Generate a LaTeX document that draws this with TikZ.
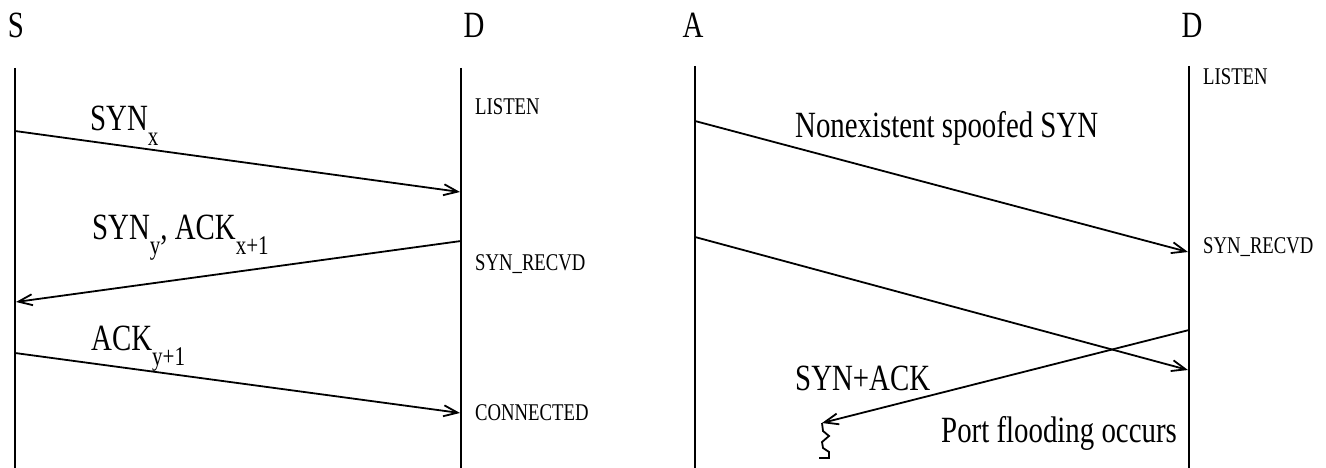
\documentclass[tikz,border=0pt]{standalone}
\usepackage{fontspec}
\setmainfont[FakeStretch=0.78]{Liberation Serif}
\usetikzlibrary{arrows.meta}
% lowered, smaller subscript text
\newcommand{\lowsub}[1]{\raisebox{-15pt}{\fontsize{27}{27}\selectfont #1}}

\begin{document}
\begin{tikzpicture}[x=1pt,y=-1pt,
  lbl/.style={inner sep=0pt, anchor=base west, font=\fontsize{37}{40}\selectfont},
  host/.style={inner sep=0pt, anchor=base, font=\fontsize{37}{40}\selectfont},
  state/.style={inner sep=0pt, anchor=base west, font=\fontsize{24}{26}\selectfont},
  life/.style={line width=2pt},
  msg/.style={line width=1.8pt, -{Straight Barb[length=14pt,width=11pt]}},
]
\useasboundingbox (0,0) rectangle (1326,468);

% ---------- normal three-way handshake ----------
\node[host] (S)  at (16,38)  {S};
\node[host] (D1) at (474,38) {D};
\coordinate (sTop) at (15,68);  \coordinate (sBot) at (15,468);
\coordinate (dTop) at (461,68); \coordinate (dBot) at (461,468);
\draw[life] (sTop) -- (sBot);
\draw[life] (dTop) -- (dBot);

\coordinate (s1) at (15,131);  \coordinate (d1) at (460,192);
\coordinate (d2) at (461,241); \coordinate (s2) at (16,302);
\coordinate (s3) at (15,353);  \coordinate (d3) at (460,413);
\draw[msg] (s1) -- (d1);
\draw[msg] (d2) -- (s2);
\draw[msg] (s3) -- (d3);

\node[lbl] (m1) at (90,131) {SYN\lowsub{x}};
\node[lbl] (m2) at (92,240) {SYN\lowsub{y}, ACK\lowsub{x+1}};
\node[lbl] (m3) at (91,350) {ACK\lowsub{y+1}};

\node[state] (st1) at (475,115) {LISTEN};
\node[state] (st2) at (475,270) {SYN\_RECVD};
\node[state] (st3) at (475,420) {CONNECTED};

% ---------- SYN flooding with a spoofed source ----------
\node[host] (A)  at (693,38)  {A};
\node[host] (D2) at (1192,38) {D};
\coordinate (aTop) at (695,66);  \coordinate (aBot) at (695,468);
\coordinate (eTop) at (1189,66); \coordinate (eBot) at (1189,468);
\draw[life] (aTop) -- (aBot);
\draw[life] (eTop) -- (eBot);

\coordinate (a1) at (695,121);  \coordinate (e1) at (1188,252);
\coordinate (a2) at (695,237);  \coordinate (e2) at (1188,370);
\coordinate (e3) at (1189,330); \coordinate (lost) at (822,423);
\draw[msg] (a1) -- (e1);
\draw[msg] (a2) -- (e2);
\draw[msg] (e3) -- (lost);
% broken end: the reply never arrives
\draw[line width=1.8pt] (lost) -- (823,431) -- (829,436) -- (822,442)
  -- (823,448) -- (829,452) -- (829,458) -- (819,458);

\node[lbl] (n1) at (795,138) {Nonexistent spoofed SYN};
\node[lbl] (n2) at (795,390) {SYN+ACK};
\node[lbl] (n3) at (941,442) {Port flooding occurs};

\node[state] (et1) at (1203,85)  {LISTEN};
\node[state] (et2) at (1203,253) {SYN\_RECVD};
\end{tikzpicture}
\end{document}
